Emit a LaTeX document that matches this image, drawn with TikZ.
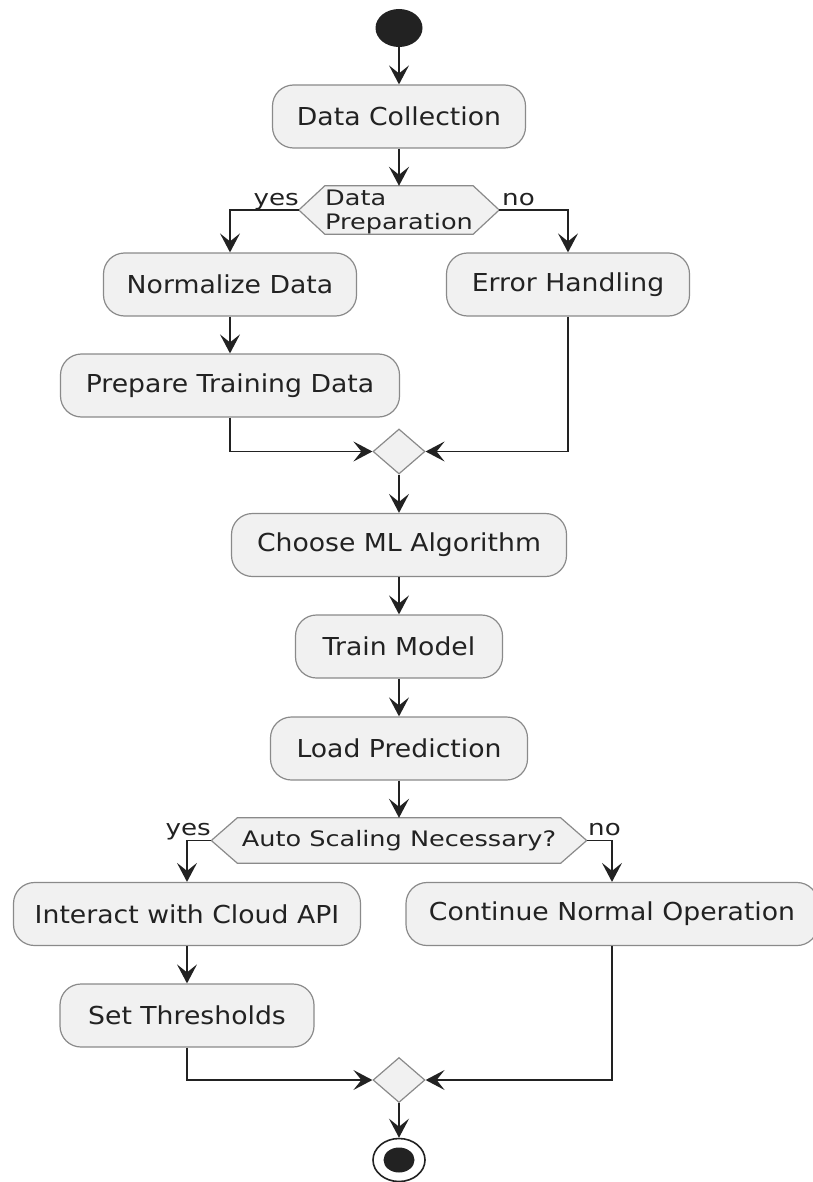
\documentclass[tikz,border=0pt]{standalone}
\usepackage{fontspec}
\setmainfont{DejaVu Sans}
\newfontfamily\boxfont{DejaVu Sans}[FakeStretch=1.08]
\newfontfamily\hexfont{DejaVu Sans}[FakeStretch=1.2]
\newfontfamily\lblfont{DejaVu Sans}[FakeStretch=1.2]
\usetikzlibrary{arrows.meta,shapes.geometric,backgrounds}
\definecolor{actfill}{HTML}{F1F1F1}
\definecolor{actline}{HTML}{8A8A8A}
\definecolor{ink}{HTML}{222222}
\begin{document}
\begin{tikzpicture}[x=1pt,y=-1pt,
  act/.style={rectangle, rounded corners=21pt, draw=actline, line width=1.2pt, fill=actfill,
    minimum height=63pt, inner sep=0pt, text=ink, font=\boxfont\fontsize{24.7}{30}\selectfont},
  hexbox/.style={rectangle, inner sep=0pt},
  hexdraw/.style={draw=actline, line width=1.2pt, fill=actfill},
  hextxt/.style={inner sep=0pt, text=ink, font=\hexfont\fontsize{21.3}{24}\selectfont},
  lbl/.style={inner sep=0pt, text=ink, font=\lblfont\fontsize{21.8}{24}\selectfont},
  merge/.style={diamond, draw=actline, line width=1.2pt, fill=actfill, minimum width=52pt,
    minimum height=45pt, inner sep=0pt},
  arr/.style={draw=ink, line width=1.7pt, -{Stealth[length=19pt,width=20pt,inset=8pt]}}
]
\path[use as bounding box] (0,0) rectangle (812,1182);

% start
\node[ellipse, fill=ink, minimum width=47pt, minimum height=38pt, inner sep=0pt] (start) at (399,28) {};

% activities
\node[act, minimum width=253pt] (dc) at (399,116.5) {Data Collection};

\node[hexbox, minimum width=200pt, minimum height=48pt] (h1) at (399,210) {};
\node[hextxt, align=left] (h1t) at (399,212) {Data\\Preparation};
\node[lbl, anchor=base east] (yes1) at (299,206) {yes};
\node[lbl, anchor=base west] (no1) at (502,206) {no};

\node[act, minimum width=253pt] (nd) at (230,284.5) {Normalize Data};
\node[act, minimum width=243pt] (eh) at (568,284.5) {Error Handling};
\node[act, minimum width=339pt] (ptd) at (230,385.5) {Prepare Training Data};

\node[merge] (m1) at (399,451.5) {};

\node[act, minimum width=335pt] (cml) at (399,545) {Choose ML Algorithm};
\node[act, minimum width=207pt] (tm) at (399,646.5) {Train Model};
\node[act, minimum width=257pt] (lp) at (399,748.5) {Load Prediction};

\node[hexbox, minimum width=375pt, minimum height=45pt] (h2) at (399,840.5) {};
\node[hextxt] (h2t) at (399,841) {Auto Scaling Necessary?};
\node[lbl, anchor=base east] (yes2) at (211,835) {yes};
\node[lbl, anchor=base west] (no2) at (588,835) {no};

\node[act, minimum width=347pt] (ica) at (187,914) {Interact with Cloud API};
\node[act, minimum width=412pt] (cno) at (612,914) {Continue Normal Operation};
\node[act, minimum width=254pt] (st) at (187,1015.5) {Set Thresholds};

\node[merge] (m2) at (399,1080) {};

% end
\node[ellipse, draw=ink, line width=1.6pt, fill=white, minimum width=52pt, minimum height=43pt, inner sep=0pt] (end) at (399,1160) {};
\node[ellipse, fill=ink, minimum width=31pt, minimum height=25pt, inner sep=0pt] (endin) at (end) {};

% hexagon outlines
\begin{scope}[on background layer]
\draw[hexdraw] (h1.west) -- ([xshift=26pt]h1.north west) -- ([xshift=-26pt]h1.north east)
  -- (h1.east) -- ([xshift=-26pt]h1.south east) -- ([xshift=26pt]h1.south west) -- cycle;
\draw[hexdraw] (h2.west) -- ([xshift=26pt]h2.north west) -- ([xshift=-26pt]h2.north east)
  -- (h2.east) -- ([xshift=-26pt]h2.south east) -- ([xshift=26pt]h2.south west) -- cycle;
\end{scope}

% connectors
\draw[arr] (start) -- (dc);
\draw[arr] (dc) -- (h1.north);
\draw[arr] (h1.west) -| (nd.north);
\draw[arr] (h1.east) -| (eh.north);
\draw[arr] (nd) -- (ptd);
\draw[arr] (ptd.south) |- (m1.west);
\draw[arr] (eh.south) |- (m1.east);
\draw[arr] (m1) -- (cml);
\draw[arr] (cml) -- (tm);
\draw[arr] (tm) -- (lp);
\draw[arr] (lp) -- (h2.north);
\draw[arr] (h2.west) -| (ica.north);
\draw[arr] (h2.east) -| (cno.north);
\draw[arr] (ica) -- (st);
\draw[arr] (st.south) |- (m2.west);
\draw[arr] (cno.south) |- (m2.east);
\draw[arr] (m2) -- (end);
\end{tikzpicture}
\end{document}
